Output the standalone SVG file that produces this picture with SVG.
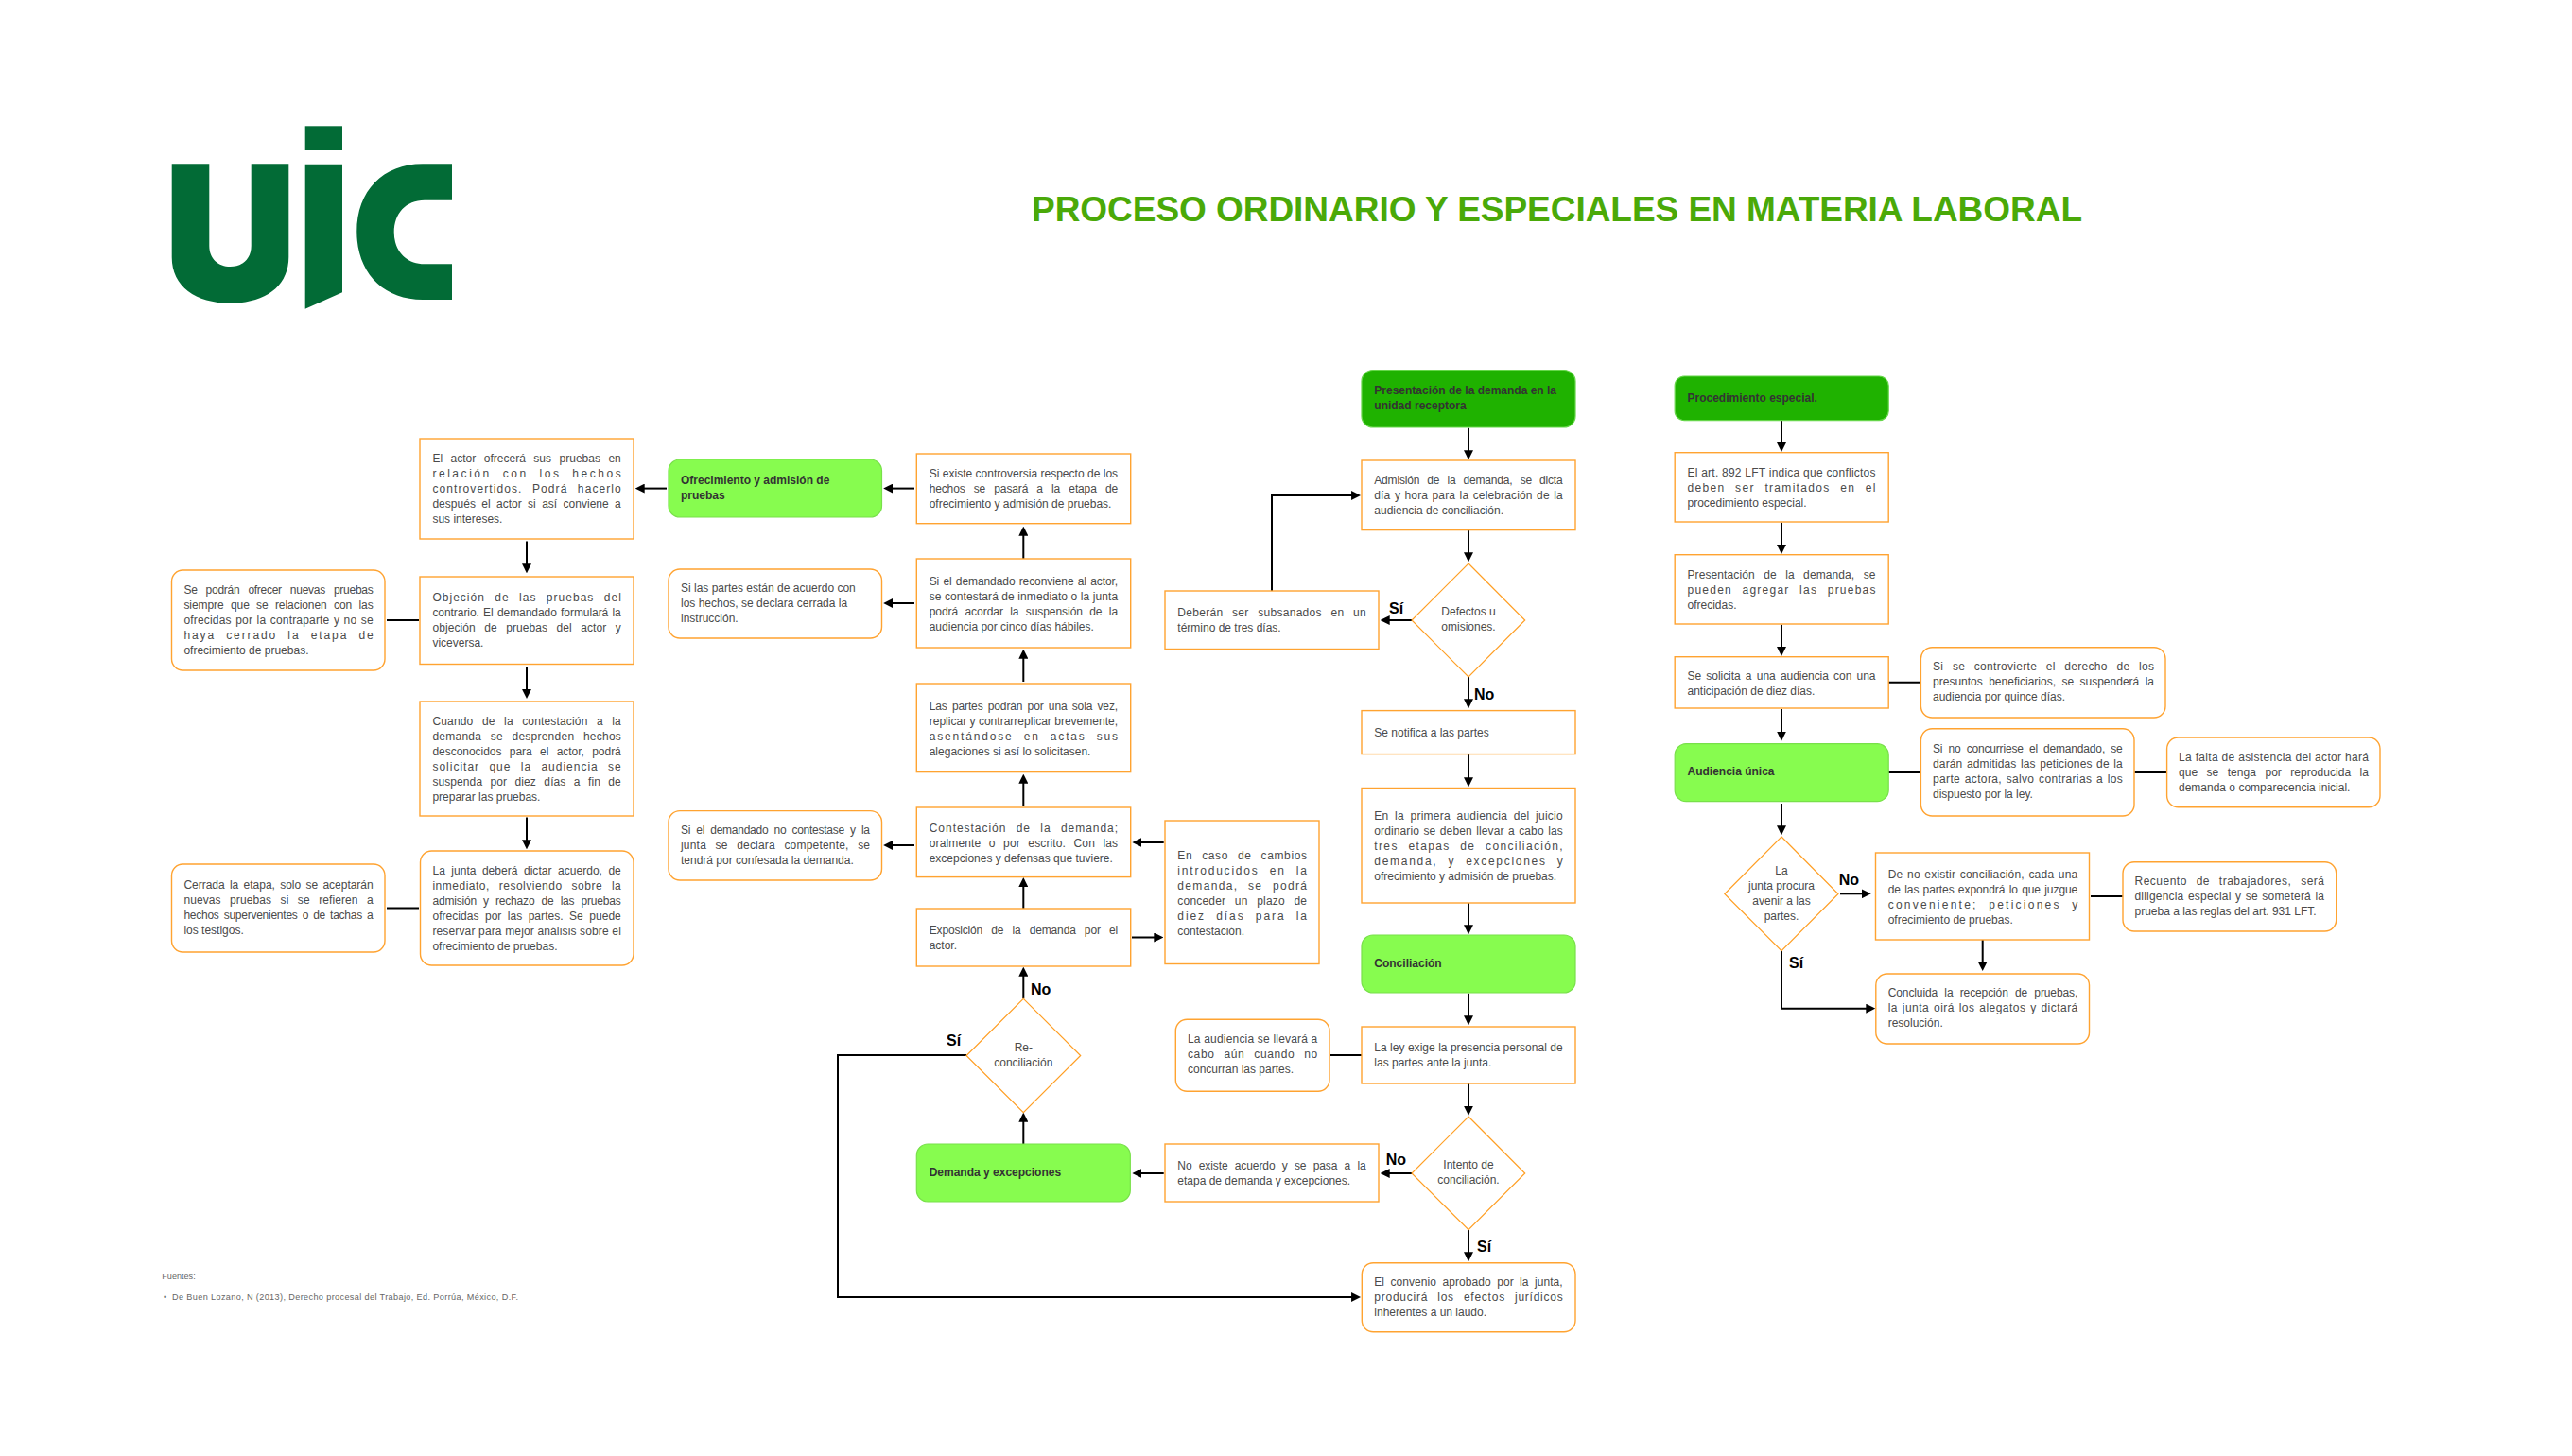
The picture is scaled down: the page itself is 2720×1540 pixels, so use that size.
<svg xmlns="http://www.w3.org/2000/svg" width="2720" height="1540" viewBox="0 0 2720 1540">
<style>
text{font-family:"Liberation Sans",Arial,sans-serif}
.t{font-size:12px;fill:#4a4a4a}
.c{text-anchor:middle}
.h{font-size:12px;font-weight:700;fill:#333}
.l{font-size:16px;font-weight:700;fill:#000}
.f{font-size:9.1px;fill:#666}
.b{fill:#fff;stroke:#ffa331;stroke-width:1.4}
.d{fill:#fff;stroke:#ff9f24;stroke-width:1.2}
.g1{fill:#87fc4f;stroke:#78e04a;stroke-width:1.2}
.g2{fill:#1fb200;stroke:#66d64a;stroke-width:1.2}
.w1{word-spacing:1px}.w2{word-spacing:2px}.w3{word-spacing:3px}.w4{word-spacing:4px}.w5{word-spacing:5px}.w6{word-spacing:6px}
#connectors path{fill:none;stroke:#000;stroke-width:2}
.a{marker-end:url(#arrow)}
</style>
<defs>
<marker id="arrow" markerUnits="userSpaceOnUse" markerWidth="10" markerHeight="10" viewBox="0 0 9 9" refX="6" refY="4.5" orient="auto"><path d="M0 0L9 4.5L0 9Z" fill="#000"/></marker>
</defs>
<rect width="2720" height="1540" fill="#fff"/>
<g id="logo" fill="#026b36">
<path d="M181.7 173.3H221.3V260C221.3 274 231 282 243.5 282C256 282 265.7 274 265.7 260V173.3H305.3V272C305.3 303 280 320.7 243.5 320.7C207 320.7 181.7 303 181.7 272Z"/>
<rect x="322.7" y="133.3" width="39.3" height="25.7"/>
<path d="M322.7 173.7H362V309.3L322.7 326.7Z"/>
<path d="M478 173.3V211.7H449C429 211.7 416.7 226 416.7 245.5C416.7 265 429 279.3 449 279.3H478V317H447C405 317 377.3 288 377.3 245C377.3 202 405 173.3 447 173.3Z"/>
</g>
<text id="title" x="1091" y="234.3" font-size="37" font-weight="700" fill="#4aa908" textLength="1111">PROCESO ORDINARIO Y ESPECIALES EN MATERIA LABORAL</text>

<g id="connectors">
<path class="a" d="M557 572.5V603"/>
<path class="a" d="M557 705V735.6"/>
<path class="a" d="M557 864.5V895"/>
<path d="M409 656H443"/>
<path d="M409 960.5H443"/>
<path class="a" d="M705 516.6H675"/>
<path class="a" d="M967 516.6H937.5"/>
<path class="a" d="M967 638H937.5"/>
<path class="a" d="M967 894H937.5"/>
<path class="a" d="M1082.3 961V931.4"/>
<path class="a" d="M1082.3 852.6V822"/>
<path class="a" d="M1082.3 721V690"/>
<path class="a" d="M1082.3 591V560"/>
<path class="a" d="M1230.7 891H1200.7"/>
<path class="a" d="M1197 991.5H1227"/>
<path class="a" d="M1345 625V524H1435.7"/>
<path class="a" d="M1553 452.7V483"/>
<path class="a" d="M1553 560.6V591"/>
<path class="a" d="M1553 716V746"/>
<path class="a" d="M1553 798V829"/>
<path class="a" d="M1553 955V985"/>
<path class="a" d="M1493 656H1463"/>
<path class="a" d="M1553 1050.7V1081"/>
<path class="a" d="M1553 1146V1176.4"/>
<path class="a" d="M1553 1301V1331"/>
<path d="M1407 1116H1441"/>
<path class="a" d="M1493 1241H1463"/>
<path class="a" d="M1022 1116H886V1372H1435.7"/>
<path class="a" d="M1082.3 1210V1180"/>
<path class="a" d="M1230.7 1241H1200.7"/>
<path class="a" d="M1082.3 1056.3V1026"/>
<path class="a" d="M1884 445V474.7"/>
<path class="a" d="M1884 552.7V582.7"/>
<path class="a" d="M1884 660.7V690.7"/>
<path class="a" d="M1884 750V780.3"/>
<path class="a" d="M1884 850V880"/>
<path d="M1997 721.7H2031"/>
<path d="M1997 817H2031"/>
<path d="M2257.5 817H2291.6"/>
<path class="a" d="M1946 945.3H1975.4"/>
<path d="M2211 948H2244.7"/>
<path class="a" d="M2096.7 994V1023.7"/>
<path class="a" d="M1884 1005.7V1066.7H1980"/>
</g>

<g id="n-actor"><rect class="b" x="444" y="464" width="226" height="106"/>
<text class="t w5" x="457.4" y="489" textLength="199.4">El actor ofrecerá sus pruebas en</text>
<text class="t w6" x="457.4" y="505" textLength="199.4">relación con los hechos</text>
<text class="t w6" x="457.4" y="521" textLength="199.4">controvertidos. Podrá hacerlo</text>
<text class="t w3" x="457.4" y="537" textLength="199.4">después el actor si así conviene a</text>
<text class="t" x="457.4" y="553">sus intereses.</text></g>
<g id="n-objecion"><rect class="b" x="444" y="610" width="226" height="92.5"/>
<text class="t w6" x="457.4" y="636" textLength="199.4">Objeción de las pruebas del</text>
<text class="t w1" x="457.4" y="652" textLength="199.4">contrario. El demandado formulará la</text>
<text class="t w6" x="457.4" y="668" textLength="199.4">objeción de pruebas del actor y</text>
<text class="t" x="457.4" y="684">viceversa.</text></g>
<g id="n-cuando"><rect class="b" x="444" y="742" width="226" height="121"/>
<text class="t w6" x="457.4" y="767" textLength="199.4">Cuando de la contestación a la</text>
<text class="t w6" x="457.4" y="783" textLength="199.4">demanda se desprenden hechos</text>
<text class="t w5" x="457.4" y="799" textLength="199.4">desconocidos para el actor, podrá</text>
<text class="t w6" x="457.4" y="815" textLength="199.4">solicitar que la audiencia se</text>
<text class="t w5" x="457.4" y="831" textLength="199.4">suspenda por diez días a fin de</text>
<text class="t" x="457.4" y="847">preparar las pruebas.</text></g>
<g id="n-junta"><rect class="b" x="444.5" y="900" width="225.5" height="121" rx="12"/>
<text class="t w3" x="457.4" y="924.5" textLength="199.4">La junta deberá dictar acuerdo, de</text>
<text class="t w6" x="457.4" y="940.5" textLength="199.4">inmediato, resolviendo sobre la</text>
<text class="t w4" x="457.4" y="956.5" textLength="199.4">admisión y rechazo de las pruebas</text>
<text class="t w3" x="457.4" y="972.5" textLength="199.4">ofrecidas por las partes. Se puede</text>
<text class="t" x="457.4" y="988.5" textLength="199.4">reservar para mejor análisis sobre el</text>
<text class="t" x="457.4" y="1004.5">ofrecimiento de pruebas.</text></g>
<g id="n-podran"><rect class="b" x="181.5" y="603" width="225.5" height="106" rx="12"/>
<text class="t w6" x="194.4" y="628" textLength="200.3">Se podrán ofrecer nuevas pruebas</text>
<text class="t w4" x="194.4" y="644" textLength="200.3">siempre que se relacionen con las</text>
<text class="t w1" x="194.4" y="660" textLength="200.3">ofrecidas por la contraparte y no se</text>
<text class="t w6" x="194.4" y="676" textLength="200.3">haya cerrado la etapa de</text>
<text class="t" x="194.4" y="692">ofrecimiento de pruebas.</text></g>
<g id="n-cerrada"><rect class="b" x="181.5" y="914" width="225.5" height="93" rx="12"/>
<text class="t w2" x="194.4" y="940" textLength="200.3">Cerrada la etapa, solo se aceptarán</text>
<text class="t w6" x="194.4" y="956" textLength="200.3">nuevas pruebas si se refieren a</text>
<text class="t w2" x="194.4" y="972" textLength="200.3">hechos supervenientes o de tachas a</text>
<text class="t" x="194.4" y="988">los testigos.</text></g>
<g id="n-ofrecimiento"><rect class="g1" x="707" y="486" width="225.5" height="61" rx="12"/>
<text class="h" x="720" y="512">Ofrecimiento y admisión de</text>
<text class="h" x="720" y="528">pruebas</text></g>
<g id="n-cerrada-instruccion"><rect class="b" x="707" y="602" width="225.5" height="73" rx="12"/>
<text class="t" x="720" y="625.8">Si las partes están de acuerdo con</text>
<text class="t" x="720" y="641.8">los hechos, se declara cerrada la</text>
<text class="t" x="720" y="657.8">instrucción.</text></g>
<g id="n-no-contesta"><rect class="b" x="707" y="857.6" width="225.5" height="73.4" rx="12"/>
<text class="t w3" x="720" y="881.8" textLength="200">Si el demandado no contestase y la</text>
<text class="t w6" x="720" y="897.8" textLength="200">junta se declara competente, se</text>
<text class="t" x="720" y="913.8">tendrá por confesada la demanda.</text></g>
<g id="n-controversia"><rect class="b" x="969.3" y="480" width="226.4" height="73.7"/>
<text class="t" x="982.7" y="505.3" textLength="199.4">Si existe controversia respecto de los</text>
<text class="t w6" x="982.7" y="521.3" textLength="199.4">hechos se pasará a la etapa de</text>
<text class="t" x="982.7" y="537.3">ofrecimiento y admisión de pruebas.</text></g>
<g id="n-reconviene"><rect class="b" x="969.3" y="591" width="226.4" height="94"/>
<text class="t w1" x="982.7" y="618.6" textLength="199.4">Si el demandado reconviene al actor,</text>
<text class="t" x="982.7" y="634.6" textLength="199.4">se contestará de inmediato o la junta</text>
<text class="t w4" x="982.7" y="650.6" textLength="199.4">podrá acordar la suspensión de la</text>
<text class="t" x="982.7" y="666.6">audiencia por cinco días hábiles.</text></g>
<g id="n-replicar"><rect class="b" x="969.3" y="723" width="226.4" height="93.6"/>
<text class="t w2" x="982.7" y="750.6" textLength="199.4">Las partes podrán por una sola vez,</text>
<text class="t" x="982.7" y="766.6" textLength="199.4">replicar y contrarreplicar brevemente,</text>
<text class="t w6" x="982.7" y="782.6" textLength="199.4">asentándose en actas sus</text>
<text class="t" x="982.7" y="798.6">alegaciones si así lo solicitasen.</text></g>
<g id="n-contestacion"><rect class="b" x="969.3" y="854" width="226.4" height="73.6"/>
<text class="t w6" x="982.7" y="879.6" textLength="199.4">Contestación de la demanda;</text>
<text class="t w5" x="982.7" y="895.6" textLength="199.4">oralmente o por escrito. Con las</text>
<text class="t" x="982.7" y="911.6">excepciones y defensas que tuviere.</text></g>
<g id="n-exposicion"><rect class="b" x="969.3" y="961" width="226.4" height="61"/>
<text class="t w6" x="982.7" y="987.9" textLength="199.4">Exposición de la demanda por el</text>
<text class="t" x="982.7" y="1003.9">actor.</text></g>
<g id="n-en-caso"><rect class="b" x="1232" y="868" width="163" height="151.5"/>
<text class="t w6" x="1245.3" y="908.6" textLength="136.7">En caso de cambios</text>
<text class="t w6" x="1245.3" y="924.6" textLength="136.7">introducidos en la</text>
<text class="t w6" x="1245.3" y="940.6" textLength="136.7">demanda, se podrá</text>
<text class="t w6" x="1245.3" y="956.6" textLength="136.7">conceder un plazo de</text>
<text class="t w6" x="1245.3" y="972.6" textLength="136.7">diez días para la</text>
<text class="t" x="1245.3" y="988.6">contestación.</text></g>
<g id="n-deberan"><rect class="b" x="1232" y="625" width="226" height="61.5"/>
<text class="t w6" x="1245.3" y="651.9" textLength="199.4">Deberán ser subsanados en un</text>
<text class="t" x="1245.3" y="667.9">término de tres días.</text></g>
<g id="n-presentacion"><rect class="g2" x="1440" y="391.5" width="226" height="60.5" rx="12"/>
<text class="h" x="1453.3" y="416.5">Presentación de la demanda en la</text>
<text class="h" x="1453.3" y="432.5">unidad receptora</text></g>
<g id="n-admision"><rect class="b" x="1440" y="487" width="226" height="73.6"/>
<text class="t w5" x="1453.3" y="512.2" textLength="199.4">Admisión de la demanda, se dicta</text>
<text class="t w1" x="1453.3" y="528.2" textLength="199.4">día y hora para la celebración de la</text>
<text class="t" x="1453.3" y="544.2">audiencia de conciliación.</text></g>
<g id="n-defectos"><polygon class="d" points="1553,596 1612.7,656 1553,716 1493,656"/>
<text class="t c" x="1553" y="651">Defectos u</text>
<text class="t c" x="1553" y="667">omisiones.</text></g>
<g id="n-notifica"><rect class="b" x="1440" y="751.6" width="226" height="46"/>
<text class="t" x="1453.3" y="778.6">Se notifica a las partes</text></g>
<g id="n-primera"><rect class="b" x="1440" y="833.5" width="226" height="121.5"/>
<text class="t w3" x="1453.3" y="867" textLength="199.4">En la primera audiencia del juicio</text>
<text class="t w1" x="1453.3" y="883" textLength="199.4">ordinario se deben llevar a cabo las</text>
<text class="t w6" x="1453.3" y="899" textLength="199.4">tres etapas de conciliación,</text>
<text class="t w6" x="1453.3" y="915" textLength="199.4">demanda, y excepciones y</text>
<text class="t" x="1453.3" y="931">ofrecimiento y admisión de pruebas.</text></g>
<g id="n-conciliacion"><rect class="g1" x="1440" y="989" width="226" height="61" rx="12"/>
<text class="h" x="1453.3" y="1022.7">Conciliación</text></g>
<g id="n-ley"><rect class="b" x="1440" y="1086" width="226" height="60"/>
<text class="t" x="1453.3" y="1112" textLength="199.4">La ley exige la presencia personal de</text>
<text class="t" x="1453.3" y="1128">las partes ante la junta.</text></g>
<g id="n-audiencia"><rect class="b" x="1243.3" y="1078.3" width="162.7" height="76" rx="12"/>
<text class="t" x="1256" y="1103.3" textLength="137.3">La audiencia se llevará a</text>
<text class="t w6" x="1256" y="1119.3" textLength="137.3">cabo aún cuando no</text>
<text class="t" x="1256" y="1135.3">concurran las partes.</text></g>
<g id="n-intento"><polygon class="d" points="1553,1181 1612.7,1241 1553,1300.7 1493,1241"/>
<text class="t c" x="1553" y="1236.3">Intento de</text>
<text class="t c" x="1553" y="1252.3">conciliación.</text></g>
<g id="n-no-existe"><rect class="b" x="1232" y="1210" width="226" height="61"/>
<text class="t w4" x="1245.3" y="1237" textLength="199.4">No existe acuerdo y se pasa a la</text>
<text class="t" x="1245.3" y="1253">etapa de demanda y excepciones.</text></g>
<g id="n-convenio"><rect class="b" x="1440.3" y="1335.7" width="225.7" height="73" rx="12"/>
<text class="t w3" x="1453.3" y="1359.7" textLength="199.4">El convenio aprobado por la junta,</text>
<text class="t w6" x="1453.3" y="1375.7" textLength="199.4">producirá los efectos jurídicos</text>
<text class="t" x="1453.3" y="1391.7">inherentes a un laudo.</text></g>
<g id="n-reconciliacion"><polygon class="d" points="1082.3,1056.3 1142.7,1116.5 1082.3,1176.7 1022,1116.5"/>
<text class="t c" x="1082.3" y="1111.7">Re-</text>
<text class="t c" x="1082.3" y="1127.7">conciliación</text></g>
<g id="n-demanda"><rect class="g1" x="969.3" y="1210" width="226" height="61" rx="12"/>
<text class="h" x="982.7" y="1243.7">Demanda y excepciones</text></g>

<g id="n-procedimiento"><rect class="g2" x="1771.2" y="398" width="226" height="46.7" rx="10"/>
<text class="h" x="1784.5" y="424.7">Procedimiento especial.</text></g>
<g id="n-art"><rect class="b" x="1771.2" y="478.7" width="226" height="73.3"/>
<text class="t" x="1784.5" y="504" textLength="199">El art. 892 LFT indica que conflictos</text>
<text class="t w6" x="1784.5" y="520" textLength="199">deben ser tramitados en el</text>
<text class="t" x="1784.5" y="536">procedimiento especial.</text></g>
<g id="n-pres-esp"><rect class="b" x="1771.2" y="586.7" width="226" height="73.3"/>
<text class="t w6" x="1784.5" y="612" textLength="199">Presentación de la demanda, se</text>
<text class="t w6" x="1784.5" y="628" textLength="199">pueden agregar las pruebas</text>
<text class="t" x="1784.5" y="644">ofrecidas.</text></g>
<g id="n-solicita"><rect class="b" x="1771.2" y="694.7" width="226" height="54.3"/>
<text class="t w2" x="1784.5" y="719" textLength="199">Se solicita a una audiencia con una</text>
<text class="t" x="1784.5" y="735">anticipación de diez días.</text></g>
<g id="n-controvierte"><rect class="b" x="2031.4" y="684.7" width="258.6" height="74.3" rx="12"/>
<text class="t w6" x="2044" y="709" textLength="234">Si se controvierte el derecho de los</text>
<text class="t w3" x="2044" y="725" textLength="234">presuntos beneficiarios, se suspenderá la</text>
<text class="t" x="2044" y="741">audiencia por quince días.</text></g>
<g id="n-audiencia-unica"><rect class="g1" x="1771.2" y="786.7" width="226" height="61" rx="12"/>
<text class="h" x="1784.5" y="820">Audiencia única</text></g>
<g id="n-concurriese"><rect class="b" x="2031.4" y="770.7" width="225.6" height="92.3" rx="12"/>
<text class="t w3" x="2044" y="796.3" textLength="200.7">Si no concurriese el demandado, se</text>
<text class="t w1" x="2044" y="812.3" textLength="200.7">darán admitidas las peticiones de la</text>
<text class="t w1" x="2044" y="828.3" textLength="200.7">parte actora, salvo contrarias a los</text>
<text class="t" x="2044" y="844.3">dispuesto por la ley.</text></g>
<g id="n-falta"><rect class="b" x="2291.6" y="780" width="225.4" height="73.7" rx="12"/>
<text class="t" x="2304" y="804.7" textLength="201">La falta de asistencia del actor hará</text>
<text class="t w6" x="2304" y="820.7" textLength="201">que se tenga por reproducida la</text>
<text class="t" x="2304" y="836.7">demanda o comparecencia inicial.</text></g>
<g id="n-avenir"><polygon class="d" points="1884,885 1944,945.5 1884,1005.7 1823.8,945.5"/>
<text class="t c" x="1884" y="925">La</text>
<text class="t c" x="1884" y="941">junta procura</text>
<text class="t c" x="1884" y="957">avenir a las</text>
<text class="t c" x="1884" y="973">partes.</text></g>
<g id="n-no-conciliacion"><rect class="b" x="1983.5" y="902" width="226" height="92"/>
<text class="t w1" x="1996.7" y="929" textLength="200.6">De no existir conciliación, cada una</text>
<text class="t w1" x="1996.7" y="945" textLength="200.6">de las partes expondrá lo que juzgue</text>
<text class="t w6" x="1996.7" y="961" textLength="200.6">conveniente; peticiones y</text>
<text class="t" x="1996.7" y="977">ofrecimiento de pruebas.</text></g>
<g id="n-recuento"><rect class="b" x="2245" y="911.7" width="225.7" height="73.3" rx="12"/>
<text class="t w6" x="2257.5" y="935.7" textLength="200.5">Recuento de trabajadores, será</text>
<text class="t w1" x="2257.5" y="951.7" textLength="200.5">diligencia especial y se someterá la</text>
<text class="t" x="2257.5" y="967.7">prueba a las reglas del art. 931 LFT.</text></g>
<g id="n-concluida"><rect class="b" x="1983.8" y="1030" width="225.7" height="74" rx="12"/>
<text class="t w4" x="1996.7" y="1054" textLength="200.6">Concluida la recepción de pruebas,</text>
<text class="t w1" x="1996.7" y="1070" textLength="200.6">la junta oirá los alegatos y dictará</text>
<text class="t" x="1996.7" y="1086">resolución.</text></g>

<g id="labels">
<text class="l" x="1469" y="649">Sí</text>
<text class="l" x="1559" y="740">No</text>
<text class="l" x="1465.7" y="1231.7">No</text>
<text class="l" x="1562" y="1324">Sí</text>
<text class="l" x="1090" y="1051.7">No</text>
<text class="l" x="1001" y="1106">Sí</text>
<text class="l" x="1944.7" y="936">No</text>
<text class="l" x="1892" y="1024">Sí</text>
</g>
<g id="sources">
<text class="f" x="171.3" y="1353.3">Fuentes:</text>
<text class="f" x="173" y="1375.3">•</text>
<text class="f" x="182" y="1375.3" textLength="366">De Buen Lozano, N (2013), Derecho procesal del Trabajo, Ed. Porrúa, México, D.F.</text>
</g>
</svg>
